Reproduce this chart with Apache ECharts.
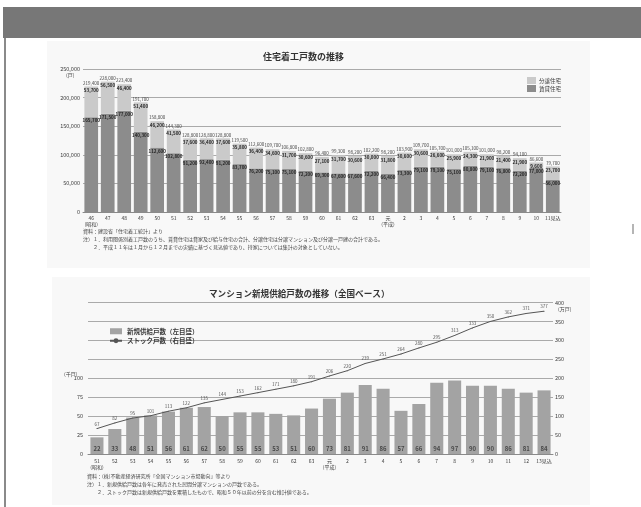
<!DOCTYPE html>
<html>
<head>
<meta charset="utf-8">
<script src="https://cdn.jsdelivr.net/npm/echarts@6/dist/echarts.min.js"></script>
<style>
  html, body { margin: 0; padding: 0; background: #fff; }
  #c { width: 641px; height: 507px; }
</style>
</head>
<body>
<div id="c"></div>
<script>
// ---- 住宅着工戸数 (戸) ----
const housingYears = ['46\n(昭和)', '47', '48', '49', '50', '51', '52', '53', '54', '55', '56', '57', '58', '59', '60',
  '61', '62', '63', '元\n(平成)', '2', '3', '4', '5', '6', '7', '8', '9', '10', '11見込'];
const rentalStarts = [165700, 171500, 177000, 140300, 112600, 102800, 91200, 92400, 91200, 83700, 76200, 75100, 75100,
  72200, 69300, 67600, 67600, 72200, 66400, 73300, 79100, 79100, 75100, 80800, 79100, 76800, 72200, 77000, 56000];
const saleStarts = [53700, 56500, 46400, 51400, 46200, 41500, 37600, 36400, 37600, 35800, 36400, 34600, 31700,
  30600, 27100, 31700, 30600, 30000, 31800, 30600, 30600, 26600, 25900, 24300, 21900, 21400, 21900, 9600, 23700];
const housingAxis = { max: 250000, step: 50000 };

// ---- マンション新規供給戸数 (千戸) / ストック戸数 (万戸) ----
const condoYears = ['51\n(昭和)', '52', '53', '54', '55', '56', '57', '58', '59', '60', '61', '62', '63',
  '元\n(平成)', '2', '3', '4', '5', '6', '7', '8', '9', '10', '11', '12', '13見込'];
const condoSupply = [22, 33, 48, 51, 56, 61, 62, 50, 55, 55, 53, 51, 60, 73, 81, 91, 86, 57, 66, 94, 97, 90, 90, 86, 81, 84];
const condoStock = [67, 82, 95, 101, 113, 122, 135, 144, 153, 162, 171, 180, 191, 206, 220, 239, 251, 264, 280, 295,
  313, 333, 350, 362, 371, 377];
const supplyAxis = { max: 200, step: 25, shownUpTo: 100 };
const stockAxis = { max: 400, step: 50 };

const FONT = '"Noto Sans CJK JP", "Noto Sans", sans-serif';
const TXT = '#3a3a3a';
const fmt = v => Number(v).toLocaleString('en-US');

const notesTop = [
  '資料：建設省「住宅着工統計」より',
  '注）１．利用関係別着工戸数のうち、賃貸住宅は貸家及び給与住宅の合計、分譲住宅は分譲マンション及び分譲一戸建の合計である。',
  '　　２．平成１１年は１月から１２月までの実績に基づく見込値であり、持家については集計の対象としていない。'
];
const notesBottom = [
  '資料：(株)不動産経済研究所「全国マンション市場動向」等より',
  '注）１．新規供給戸数は各年に発売された民間分譲マンションの戸数である。',
  '　　２．ストック戸数は新規供給戸数を累積したもので、昭和５０年以前の分を含む推計値である。'
];

const chart = echarts.init(document.getElementById('c'), null, { renderer: 'canvas' });

const noteText = (lines, x, y0, dy) => lines.map((t, i) => ({
  type: 'text', left: x, top: y0 + i * dy, z: 5,
  style: { text: t, font: '5px ' + FONT, fill: '#444' }
}));

chart.setOption({
  animation: false,
  backgroundColor: '#ffffff',
  textStyle: { fontFamily: FONT },
  graphic: [
    { type: 'rect', z: -10, shape: { x: 3, y: 7, width: 640, height: 31 }, style: { fill: '#777777' } },
    { type: 'rect', z: -10, shape: { x: 4, y: 38, width: 2, height: 469 }, style: { fill: '#8a8a8a' } },
    { type: 'rect', z: -10, shape: { x: 47, y: 41, width: 543, height: 227 }, style: { fill: '#f8f8f8' } },
    { type: 'rect', z: -10, shape: { x: 52, y: 277, width: 538, height: 228 }, style: { fill: '#f8f8f8' } },
    { type: 'rect', z: -10, shape: { x: 632, y: 224, width: 2, height: 10 }, style: { fill: '#b5b5b5' } },
    { type: 'text', left: 263, top: 52, z: 5,
      style: { text: '住宅着工戸数の推移', font: 'bold 9px ' + FONT, fill: '#333' } },
    { type: 'text', left: 209, top: 289, z: 5,
      style: { text: 'マンション新規供給戸数の推移（全国ベース）', font: 'bold 8.6px ' + FONT, fill: '#333' } },
    { type: 'text', left: 66, top: 73, z: 5, style: { text: '(戸)', font: '5px ' + FONT, fill: TXT } },
    { type: 'text', left: 64, top: 372, z: 5, style: { text: '(千戸)', font: '5px ' + FONT, fill: TXT } },
    { type: 'text', left: 558, top: 307, z: 5, style: { text: '(万戸)', font: '5px ' + FONT, fill: TXT } },
    ...noteText(notesTop, 83, 229, 8),
    ...noteText(notesBottom, 87, 474, 8)
  ],
  legend: [
    {
      data: ['分譲住宅', '賃貸住宅'], orient: 'vertical', left: 522, top: 72,
      itemWidth: 9, itemHeight: 7, itemGap: 1, icon: 'rect',
      textStyle: { fontSize: 5.5, color: TXT, fontFamily: FONT, padding: [0, 0, 0, -2] }
    },
    {
      data: [{ name: '新規供給戸数（左目盛）', icon: 'rect' }, { name: 'ストック戸数（右目盛）' }],
      orient: 'vertical', left: 104, top: 323, itemWidth: 12, itemHeight: 6, itemGap: 3,
      textStyle: { fontSize: 6.5, color: TXT, fontFamily: FONT, fontWeight: 'bold' }
    }
  ],
  grid: [
    { left: 83, right: 80, top: 69, bottom: 295 },
    { left: 88, right: 88, top: 302.5, bottom: 53 }
  ],
  xAxis: [
    {
      type: 'category', gridIndex: 0, data: housingYears,
      axisLine: { lineStyle: { color: '#8a8a8a' } }, axisTick: { show: false },
      axisLabel: { interval: 0, fontSize: 5, lineHeight: 6, margin: 3, color: TXT }
    },
    {
      type: 'category', gridIndex: 1, data: condoYears,
      axisLine: { lineStyle: { color: '#8a8a8a' } }, axisTick: { show: false },
      axisLabel: { interval: 0, fontSize: 5, lineHeight: 6, margin: 4, color: TXT }
    }
  ],
  yAxis: [
    {
      type: 'value', gridIndex: 0, min: 0, max: housingAxis.max, interval: housingAxis.step,
      axisLine: { show: false }, axisTick: { show: false },
      axisLabel: { fontSize: 5.5, margin: 3, color: TXT, formatter: fmt },
      splitLine: { lineStyle: { color: '#aaaaaa', width: 1 } }
    },
    {
      type: 'value', gridIndex: 1, min: 0, max: supplyAxis.max, interval: supplyAxis.step,
      axisLine: { show: false }, axisTick: { show: false }, splitLine: { show: false },
      axisLabel: { fontSize: 5.5, margin: 5, color: TXT,
        formatter: v => (v <= supplyAxis.shownUpTo ? String(v) : '') }
    },
    {
      type: 'value', gridIndex: 1, position: 'right', min: 0, max: stockAxis.max, interval: stockAxis.step,
      axisLine: { show: false }, axisTick: { show: false },
      axisLabel: { fontSize: 5.5, margin: 2, color: TXT },
      splitLine: { lineStyle: { color: '#aaaaaa', width: 1 } }
    }
  ],
  series: [
    {
      name: '賃貸住宅', type: 'bar', stack: 'starts', xAxisIndex: 0, yAxisIndex: 0,
      data: rentalStarts, barCategoryGap: '17%',
      itemStyle: { color: '#8c8c8c' },
      label: { show: true, position: 'insideTop', distance: 1, fontSize: 4.5, fontWeight: 'bold',
        color: '#262626', formatter: p => fmt(p.value) }
    },
    {
      name: '分譲住宅', type: 'bar', stack: 'starts', xAxisIndex: 0, yAxisIndex: 0,
      data: saleStarts, barCategoryGap: '17%',
      itemStyle: { color: '#cacaca' },
      label: {
        show: true, position: 'insideTop', distance: 1, offset: [0, -9],
        formatter: p => '{t|' + fmt(p.value + rentalStarts[p.dataIndex]) + '}\n{v|' + fmt(p.value) + '}',
        rich: {
          t: { fontSize: 4.5, lineHeight: 9, color: '#444' },
          v: { fontSize: 4.5, lineHeight: 6, color: '#262626', fontWeight: 'bold' }
        }
      }
    },
    {
      name: '新規供給戸数（左目盛）', type: 'bar', xAxisIndex: 1, yAxisIndex: 1,
      data: condoSupply, barCategoryGap: '27%',
      itemStyle: { color: '#a3a3a3' },
      label: { show: true, position: 'insideBottom', distance: 2, fontSize: 6, fontWeight: 'bold', color: '#4a4a4a' }
    },
    {
      name: 'ストック戸数（右目盛）', type: 'line', xAxisIndex: 1, yAxisIndex: 2,
      data: condoStock, symbol: 'circle', symbolSize: 1, showSymbol: true,
      lineStyle: { color: '#555', width: 1 }, itemStyle: { color: '#555' },
      label: { show: true, position: 'top', distance: 2, fontSize: 4.5, color: '#555' }
    }
  ]
});
</script>
</body>
</html>
